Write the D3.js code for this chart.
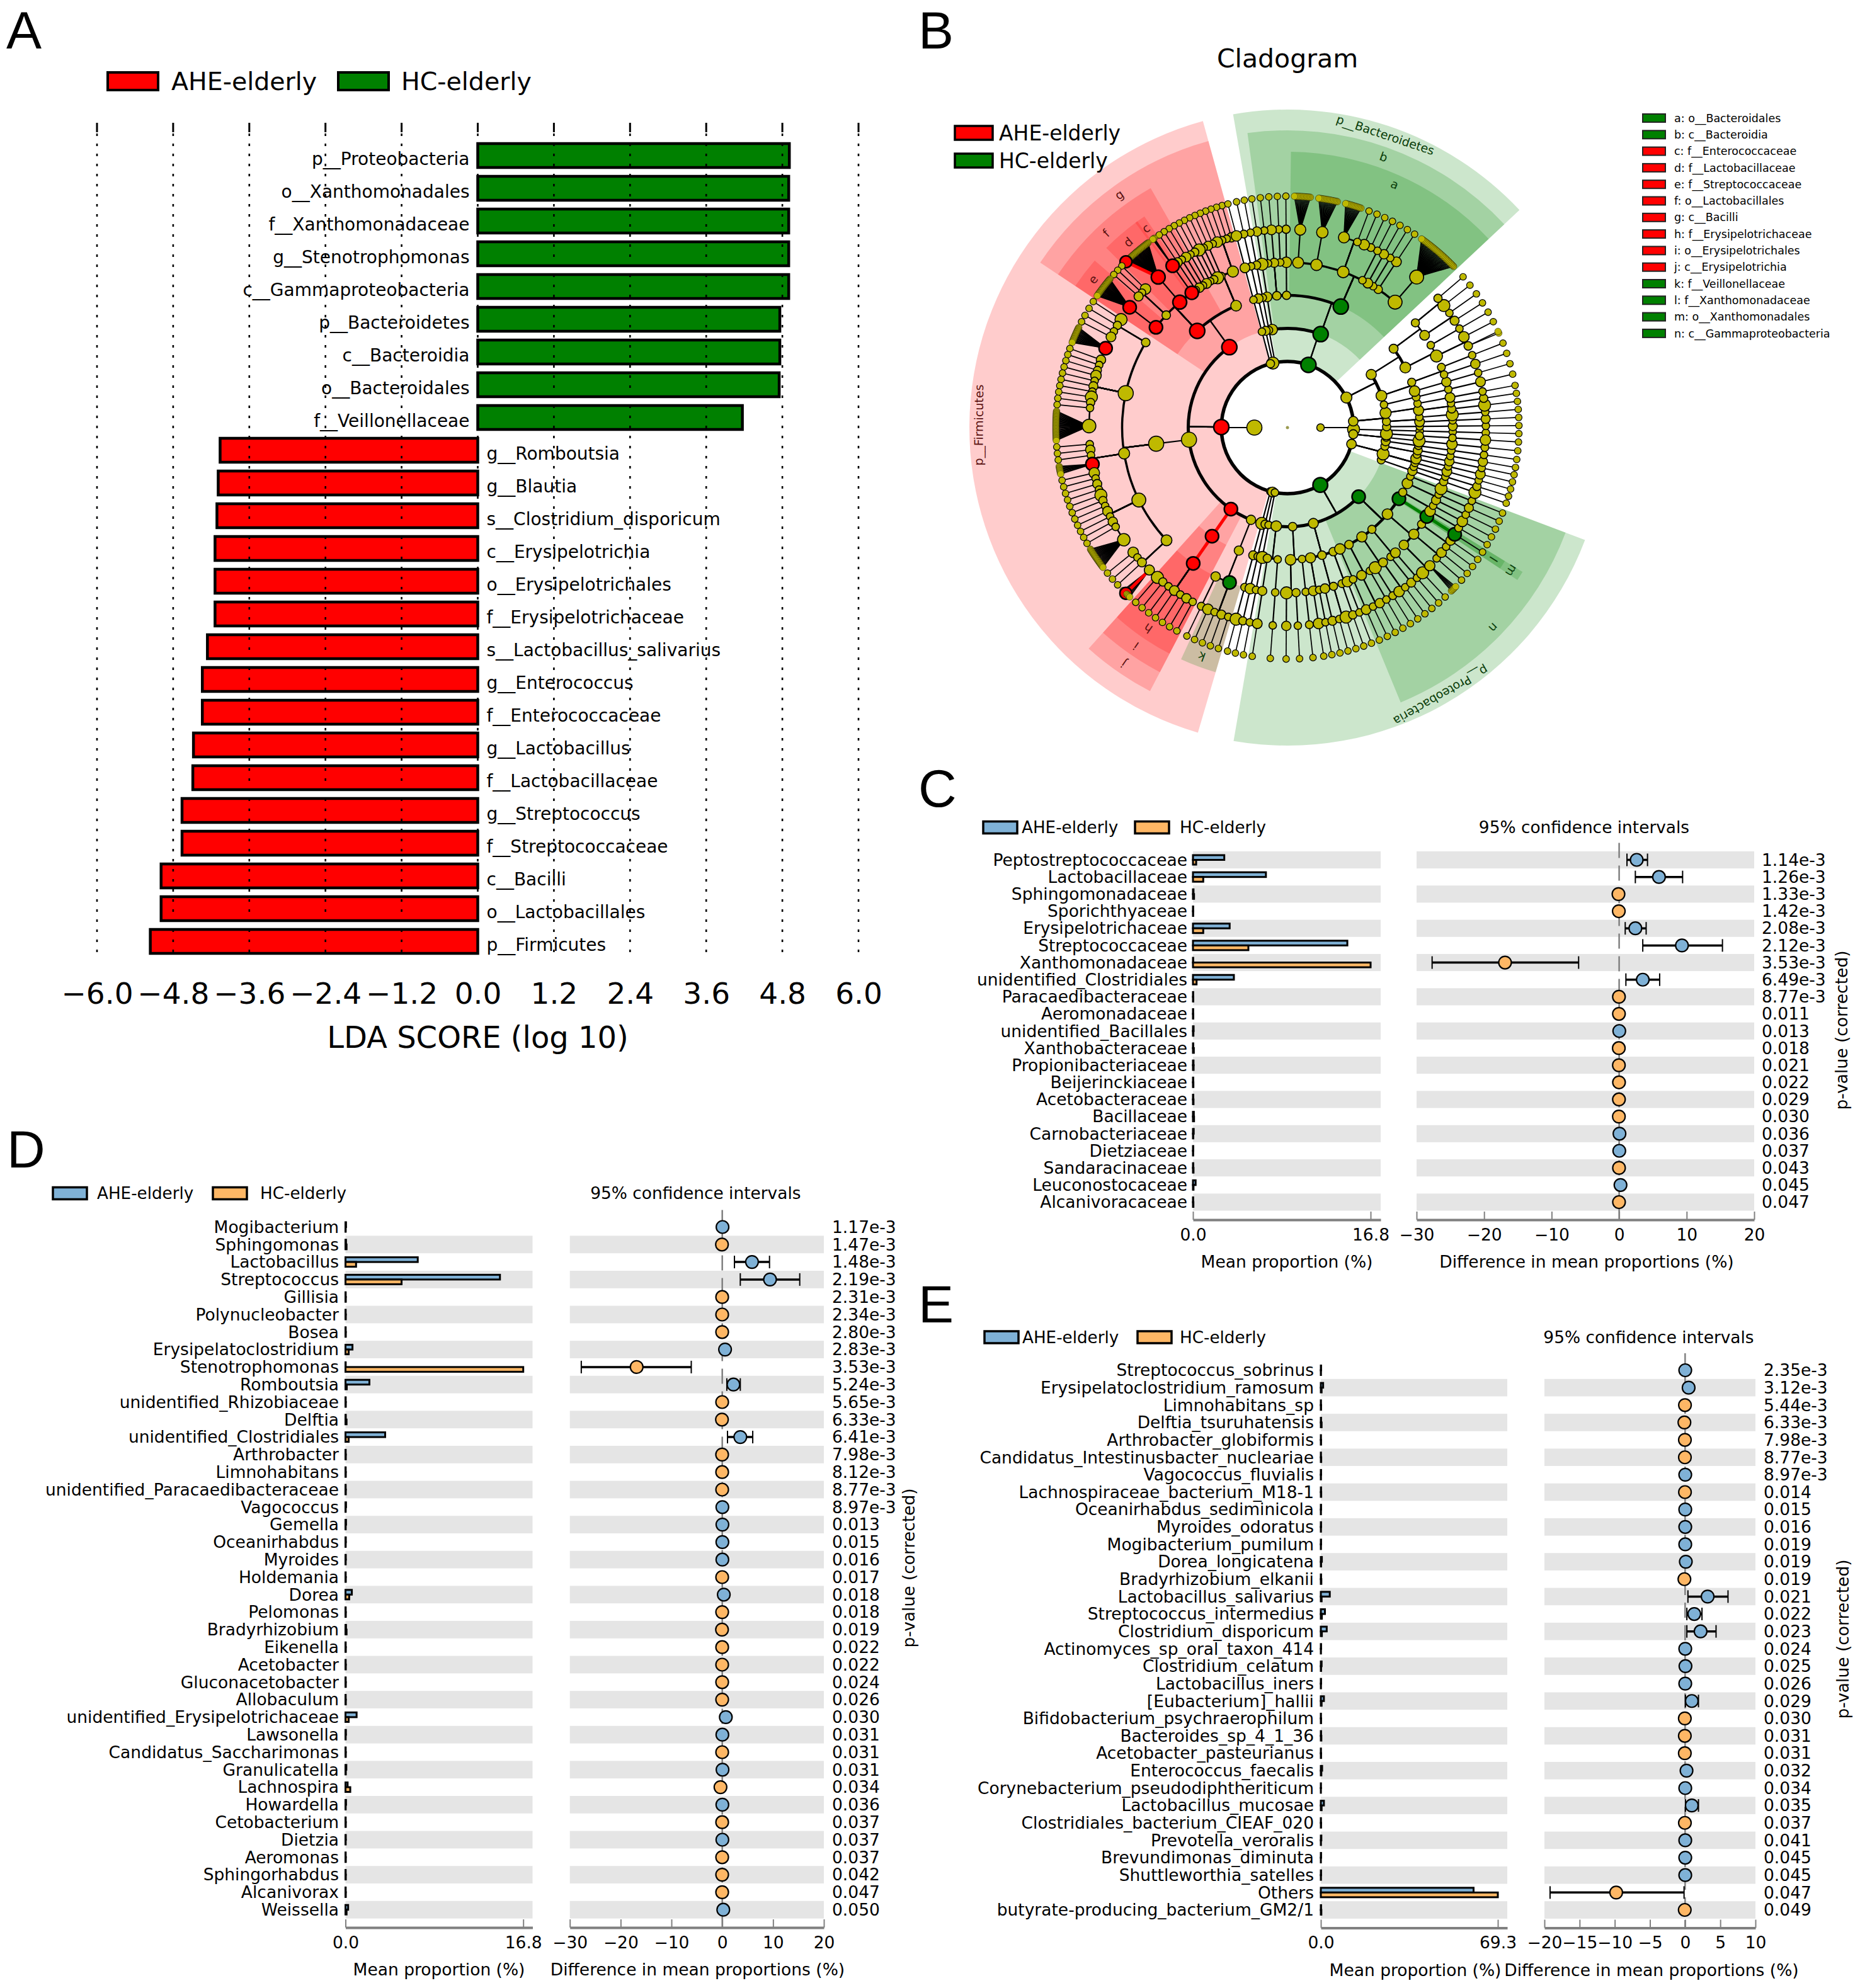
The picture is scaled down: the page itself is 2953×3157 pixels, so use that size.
<!DOCTYPE html>
<html>
<head>
<meta charset="utf-8">
<script src="https://cdn.jsdelivr.net/npm/d3@7"></script>
<style>
  html, body { margin: 0; background: #fff; }
  text { font-family: "DejaVu Sans", sans-serif; fill: #000; }
  .panel-letter { font-family: "Liberation Sans", sans-serif; font-size: 84px; }
</style>
</head>
<body>
<div id="svg"></div>
<script>
// ---- panel A: LDA scores
const ldaTaxa = ["p__Proteobacteria", "o__Xanthomonadales", "f__Xanthomonadaceae", "g__Stenotrophomonas",
  "c__Gammaproteobacteria", "p__Bacteroidetes", "c__Bacteroidia", "o__Bacteroidales", "f__Veillonellaceae",
  "g__Romboutsia", "g__Blautia", "s__Clostridium_disporicum", "c__Erysipelotrichia", "o__Erysipelotrichales",
  "f__Erysipelotrichaceae", "s__Lactobacillus_salivarius", "g__Enterococcus", "f__Enterococcaceae",
  "g__Lactobacillus", "f__Lactobacillaceae", "g__Streptococcus", "f__Streptococcaceae", "c__Bacilli",
  "o__Lactobacillales", "p__Firmicutes"];
const ldaScores = [4.91, 4.9, 4.9, 4.9, 4.9, 4.76, 4.76, 4.75, 4.17,
  -4.06, -4.09, -4.11, -4.14, -4.14, -4.14, -4.26, -4.34, -4.34, -4.48, -4.49, -4.66, -4.66, -4.99, -4.99, -5.16];
const ldaTicks = [-6, -4.8, -3.6, -2.4, -1.2, 0, 1.2, 2.4, 3.6, 4.8, 6];

// ---- panel B: cladogram, a number means a chain ending in that many species
const clade = (name, mark, kids, bold, hit) => ({ name, mark, kids, bold, hit });

const strayPhyla = [clade("stray1", null, 1), clade("stray2", null, 1), clade("stray3", null, 1)];
const bacteroidales = clade("o__Bacteroidales", "green", [12, 14, [12, 1, 1, 1], 1, 1, 1, 1, 30]);
const bacteroidia = clade("c__Bacteroidia", "green", [[1, 1, 1], 1, bacteroidales]);
const bacteroidetes = clade("p__Bacteroidetes", "green", [1, bacteroidia]);

const eastPhyla = [
  clade("east1", null, [[[[1, 1], [1, 1]], [1, [1, [14, 1]]]], [[1, 1], 1], 1]),
  clade("east2", null, [[1, [1, 1]], [1, 1], 1]),
  clade("east4", null, [1, 1, 1]),
  clade("east5", null, [[1, 1], [1, 1, 1], 1])
];
const eastKingdomPhylum = clade("east3", null, 1);

const xanthomonadales = clade("o__Xanthomonadales", "green", [
  clade("f__Xanthomonadaceae", "green", [clade("g__Stenotrophomonas", "green", 1, true)], true)]);
const gammaproteobacteria = clade("c__Gammaproteobacteria", "green",
  [1, [1, 1], [1, 1], xanthomonadales, [[1, 1], [1, 1], [5, 1]], [1, 1], [[1, 1], 1], [1, [1, 1]], 1]);
const proteobacteria = clade("p__Proteobacteria", "green", [
  gammaproteobacteria,
  clade("proteo2", null, [[1, 1], [[1, 1], 1], [1, 1]]),
  clade("proteo3", null, [1, [1, 1]]),
  clade("proteo4", null, [1, 1])
]);
const southPhyla = [clade("south1", null, 1), clade("south2", null, 1), clade("south3", null, 1)];

const negativicutes = clade("negativicutes", null, [[clade("f__Veillonellaceae", "green", [1, 1, 1, 1]), 1]]);
const erysipelotrichia = clade("c__Erysipelotrichia", "red", [
  clade("o__Erysipelotrichales", "red", [clade("f__Erysipelotrichaceae", "red", [1, 1, 1, 1, 1, 1, 1], true)], true)]);
const clostridia = clade("clostridia", null, [clade("clostridiales", null, [
  clade("clostFam1", null, [clade("g__Clostridium", null, 8, false, 4), 1, 1, 1]),
  clade("clostFam2", null, [20, 1, 1, 1, 1, 1, 1, 1, 1, 1, 1]),
  clade("clostFam3", null, [1, clade("g__Blautia", "red", 8), 1, 1, 1]),
  clade("clostFam4", null, [28, 1, 1, 1, 1, 1, 1, 1, 1, 1, 1, clade("g__Romboutsia", "red", 16), 1]),
  clade("clostFam5", null, [1, 1, 1])
])]);
const lactobacillales = clade("o__Lactobacillales", "red", [
  clade("f__Streptococcaceae", "red", [clade("g__Streptococcus", "red", 22)]),
  [1, 1, 1],
  clade("f__Lactobacillaceae", "red", [clade("g__Lactobacillus", "red", 30, false, 0)]),
  clade("f__Enterococcaceae", "red", [clade("g__Enterococcus", "red", 3)]),
  1, 1, 1
]);
const bacilli = clade("c__Bacilli", "red", [lactobacillales,
  clade("bacilliOrder2", null, [1, 1, 1, 1, 1, [1, 1, 1, 1, 1]])]);
const firmicutes = clade("p__Firmicutes", "red", [negativicutes, erysipelotrichia, clostridia, bacilli]);

const kingdomAngles = [270, 90];
// relative sizes seen on the small unmarked branches
const branchSizes = [1, 1.3, 1, 1.1, 1.6, 1, 1.2, 1, 1.4, 1.05, 1, 1.25];

// angular sectors, degrees clockwise from north
const sectorNames = ["stray1", "stray2", "stray3", "p__Bacteroidetes", "east1", "east2", "east3", "east4", "east5",
  "c__Gammaproteobacteria", "proteo2", "proteo3", "proteo4", "south1", "south2", "south3",
  "negativicutes", "c__Erysipelotrichia", "clostFam1", "clostFam2", "clostFam3", "clostFam4", "clostFam5",
  "o__Lactobacillales", "bacilliOrder2"];
const sectorStarts = [-16, -13.8, -11.6, -9.9, 48, 78.5, 90.5, 92.5, 99,
  110.6, 157.7, 172, 182, 189.9, 192, 194,
  196.3, 207.5, 222, 232, 256, 266, 298, 304, 330];
const sectorEnds = [-13.8, -11.6, -9.9, 46.9, 78, 90.5, 92.5, 99, 110,
  157.7, 172, 182, 191, 192, 194, 196,
  206.8, 222, 232, 256, 266, 298, 304, 330, 344.3];

const legendLetters = ["a", "b", "c", "d", "e", "f", "g", "h", "i", "j", "k", "l", "m", "n"];
const legendTaxa = ["o__Bacteroidales", "c__Bacteroidia", "f__Enterococcaceae", "f__Lactobacillaceae",
  "f__Streptococcaceae", "o__Lactobacillales", "c__Bacilli", "f__Erysipelotrichaceae", "o__Erysipelotrichales",
  "c__Erysipelotrichia", "f__Veillonellaceae", "f__Xanthomonadaceae", "o__Xanthomonadales", "c__Gammaproteobacteria"];
const phylumLabels = ["p__Bacteroidetes", "p__Proteobacteria", "p__Firmicutes"];

// ---- panel C: families
const cNames = ["Peptostreptococcaceae", "Lactobacillaceae", "Sphingomonadaceae", "Sporichthyaceae", "Erysipelotrichaceae",
  "Streptococcaceae", "Xanthomonadaceae", "unidentified_Clostridiales", "Paracaedibacteraceae", "Aeromonadaceae",
  "unidentified_Bacillales", "Xanthobacteraceae", "Propionibacteriaceae", "Beijerinckiaceae", "Acetobacteraceae",
  "Bacillaceae", "Carnobacteriaceae", "Dietziaceae", "Sandaracinaceae", "Leuconostocaceae", "Alcanivoracaceae"];
const cPValues = ["1.14e-3", "1.26e-3", "1.33e-3", "1.42e-3", "2.08e-3", "2.12e-3", "3.53e-3", "6.49e-3", "8.77e-3",
  "0.011", "0.013", "0.018", "0.021", "0.022", "0.029", "0.030", "0.036", "0.037", "0.043", "0.045", "0.047"];
const cAhe = [2.96, 6.9, 0.05, 0.02, 3.47, 14.6, 0.02, 3.87, 0.02, 0.02, 0.06, 0.03, 0.05, 0.03, 0.03, 0.08, 0.07, 0.03, 0.03, 0.25, 0.02];
const cHc = [0.3, 0.97, 0.1, 0.02, 0.97, 5.24, 16.8, 0.34, 0.03, 0.03, 0.04, 0.08, 0.06, 0.04, 0.05, 0.1, 0.03, 0.02, 0.05, 0.05, 0.04];
const cDiff = [2.6, 5.9, -0.1, -0.05, 2.4, 9.3, -16.9, 3.5, -0.03, -0.03, 0.02, -0.05, -0.04, -0.02, -0.03, -0.04, 0.05, 0.02, -0.02, 0.2, -0.02];
const cCiNames = ["Peptostreptococcaceae", "Lactobacillaceae", "Erysipelotrichaceae", "Streptococcaceae", "Xanthomonadaceae", "unidentified_Clostridiales"];
const cCiLow = [1.16, 2.4, 0.9, 3.5, -27.7, 1.0];
const cCiHigh = [4.2, 9.4, 4.0, 15.3, -6, 6];
const cDiffTicks = [-30, -20, -10, 0, 10, 20];

// ---- panel D: genera
const dNames = ["Mogibacterium", "Sphingomonas", "Lactobacillus", "Streptococcus", "Gillisia", "Polynucleobacter", "Bosea",
  "Erysipelatoclostridium", "Stenotrophomonas", "Romboutsia", "unidentified_Rhizobiaceae", "Delftia",
  "unidentified_Clostridiales", "Arthrobacter", "Limnohabitans", "unidentified_Paracaedibacteraceae", "Vagococcus",
  "Gemella", "Oceanirhabdus", "Myroides", "Holdemania", "Dorea", "Pelomonas", "Bradyrhizobium", "Eikenella",
  "Acetobacter", "Gluconacetobacter", "Allobaculum", "unidentified_Erysipelotrichaceae", "Lawsonella",
  "Candidatus_Saccharimonas", "Granulicatella", "Lachnospira", "Howardella", "Cetobacterium", "Dietzia", "Aeromonas",
  "Sphingorhabdus", "Alcanivorax", "Weissella"];
const dPValues = ["1.17e-3", "1.47e-3", "1.48e-3", "2.19e-3", "2.31e-3", "2.34e-3", "2.80e-3", "2.83e-3", "3.53e-3", "5.24e-3",
  "5.65e-3", "6.33e-3", "6.41e-3", "7.98e-3", "8.12e-3", "8.77e-3", "8.97e-3", "0.013", "0.015", "0.016", "0.017", "0.018",
  "0.018", "0.019", "0.022", "0.022", "0.024", "0.026", "0.030", "0.031", "0.031", "0.031", "0.034", "0.036", "0.037",
  "0.037", "0.037", "0.042", "0.047", "0.050"];
const dAhe = [0.05, 0.05, 6.83, 14.6, 0.02, 0.02, 0.02, 0.66, 0.02, 2.26, 0.02, 0.03, 3.75, 0.02, 0.02, 0.02, 0.05, 0.05, 0.03, 0.03,
  0.02, 0.6, 0.02, 0.05, 0.02, 0.02, 0.02, 0.02, 1.05, 0.04, 0.02, 0.08, 0.2, 0.05, 0.02, 0.03, 0.02, 0.02, 0.02, 0.25];
const dHc = [0.02, 0.1, 1.0, 5.3, 0.03, 0.03, 0.03, 0.3, 16.8, 0.12, 0.03, 0.1, 0.3, 0.03, 0.03, 0.03, 0.02, 0.02, 0.02, 0.02,
  0.03, 0.35, 0.03, 0.1, 0.03, 0.03, 0.03, 0.03, 0.3, 0.02, 0.03, 0.03, 0.45, 0.02, 0.03, 0.02, 0.03, 0.03, 0.03, 0.1];
const dDiff = [0.05, -0.06, 5.85, 9.4, -0.02, -0.02, -0.02, 0.55, -16.85, 2.2, -0.02, -0.06, 3.55, -0.03, -0.02, -0.02, 0.02, 0.03, 0.02, 0.02,
  -0.02, 0.3, -0.02, -0.05, -0.02, -0.02, -0.02, -0.02, 0.7, 0.02, -0.02, 0.05, -0.35, 0.02, -0.02, 0.02, -0.02, -0.02, -0.02, 0.2];
const dCiNames = ["Lactobacillus", "Streptococcus", "Stenotrophomonas", "Romboutsia", "unidentified_Clostridiales"];
const dCiLow = [2.4, 3.55, -27.75, 0.9, 1.03];
const dCiHigh = [9.3, 15.25, -6.1, 3.55, 6.0];
const dDiffTicks = [-30, -20, -10, 0, 10, 20];

// ---- panel E: species
const eNames = ["Streptococcus_sobrinus", "Erysipelatoclostridium_ramosum", "Limnohabitans_sp", "Delftia_tsuruhatensis",
  "Arthrobacter_globiformis", "Candidatus_Intestinusbacter_nucleariae", "Vagococcus_fluvialis", "Lachnospiraceae_bacterium_M18-1",
  "Oceanirhabdus_sediminicola", "Myroides_odoratus", "Mogibacterium_pumilum", "Dorea_longicatena", "Bradyrhizobium_elkanii",
  "Lactobacillus_salivarius", "Streptococcus_intermedius", "Clostridium_disporicum", "Actinomyces_sp_oral_taxon_414",
  "Clostridium_celatum", "Lactobacillus_iners", "[Eubacterium]_hallii", "Bifidobacterium_psychraerophilum", "Bacteroides_sp_4_1_36",
  "Acetobacter_pasteurianus", "Enterococcus_faecalis", "Corynebacterium_pseudodiphtheriticum", "Lactobacillus_mucosae",
  "Clostridiales_bacterium_CIEAF_020", "Prevotella_veroralis", "Brevundimonas_diminuta", "Shuttleworthia_satelles", "Others",
  "butyrate-producing_bacterium_GM2/1"];
const ePValues = ["2.35e-3", "3.12e-3", "5.44e-3", "6.33e-3", "7.98e-3", "8.77e-3", "8.97e-3", "0.014", "0.015", "0.016", "0.019",
  "0.019", "0.019", "0.021", "0.022", "0.023", "0.024", "0.025", "0.026", "0.029", "0.030", "0.031", "0.031", "0.032", "0.034",
  "0.035", "0.037", "0.041", "0.045", "0.045", "0.047", "0.049"];
const eAhe = [0.1, 0.9, 0.05, 0.1, 0.05, 0.05, 0.1, 0.1, 0.1, 0.1, 0.1, 0.4, 0.1, 3.5, 1.6, 2.3, 0.1, 0.3, 0.1, 1.2, 0.05, 0.1, 0.05,
  0.5, 0.05, 1.2, 0.05, 0.2, 0.1, 0.1, 59.8, 0.1];
const eHc = [0.05, 0.3, 0.1, 0.3, 0.1, 0.15, 0.05, 0.15, 0.05, 0.05, 0.05, 0.1, 0.2, 0.3, 0.4, 0.4, 0.05, 0.1, 0.05, 0.3, 0.1, 0.2, 0.1,
  0.2, 0.02, 0.3, 0.1, 0.05, 0.02, 0.05, 69.3, 0.2];
const eDiff = [0.02, 0.5, -0.02, -0.1, -0.03, -0.03, 0.02, -0.02, 0.02, 0.02, 0.02, 0.1, -0.1, 3.2, 1.3, 2.2, 0.02, 0.05, 0.02, 0.95,
  -0.04, -0.04, -0.04, 0.2, 0.02, 0.95, -0.03, 0.02, 0.02, 0.02, -9.8, -0.05];
const eCiNames = ["Lactobacillus_salivarius", "Streptococcus_intermedius", "Clostridium_disporicum", "[Eubacterium]_hallii", "Lactobacillus_mucosae", "Others"];
const eCiLow = [0.4, 0.25, 0.25, 0.05, 0.05, -19.2];
const eCiHigh = [6.1, 2.4, 4.4, 1.9, 1.9, -0.15];
const eDiffTicks = [-20, -15, -10, -5, 0, 5, 10];

const groupNames = ["AHE-elderly", "HC-elderly"];
const RED = "#ff0000", GREEN = "#008000", BLUE = "#7fb1d6", ORANGE = "#feb765", YELLOW = "#bfb900";

const svg = d3.select("#svg").append("svg").attr("width", 2953).attr("height", 3157);

function letter(txt, x, y) {
  svg.append("text").attr("class", "panel-letter").attr("x", x).attr("y", y).text(txt);
}
letter("A", 10, 77); letter("B", 1458, 77); letter("C", 1458, 1281); letter("D", 11, 1854); letter("E", 1458, 2100);

function legendEntry(x, y, w, h, fill, label, textX, size, sw) {
  svg.append("rect").attr("x", x).attr("y", y).attr("width", w).attr("height", h)
    .attr("fill", fill).attr("stroke", "#000").attr("stroke-width", sw);
  svg.append("text").attr("x", textX).attr("y", y + h / 2).attr("dy", ".35em").style("font-size", size + "px").text(label);
}

// ---------- panel A
function drawLda() {
  const x = d3.scaleLinear().domain([-6, 6]).range([154, 1363]);
  const y = d3.scalePoint().domain(ldaTaxa).range([247, 1495]);
  legendEntry(171, 115, 80, 28, RED, groupNames[0], 272, 39.5, 4);
  legendEntry(537, 115, 80, 28, GREEN, groupNames[1], 637, 39.5, 4);

  svg.append("g").selectAll("rect").data(ldaTaxa).join("rect")
    .attr("x", (d, i) => Math.min(x(0), x(ldaScores[i])))
    .attr("y", d => y(d) - 19)
    .attr("width", (d, i) => Math.abs(x(ldaScores[i]) - x(0)))
    .attr("height", 38)
    .attr("fill", (d, i) => ldaScores[i] > 0 ? GREEN : RED)
    .attr("stroke", "#000").attr("stroke-width", 4.5);

  svg.append("g").selectAll("text").data(ldaTaxa).join("text")
    .attr("x", (d, i) => ldaScores[i] > 0 ? x(0) - 13 : x(0) + 14)
    .attr("y", d => y(d) + 5).attr("dy", ".35em")
    .attr("text-anchor", (d, i) => ldaScores[i] > 0 ? "end" : "start")
    .style("font-size", "28px").text(d => d);

  svg.append("g").selectAll("line").data(ldaTicks).join("line")
    .attr("x1", d => x(d)).attr("x2", d => x(d)).attr("y1", 212).attr("y2", 1520)
    .attr("stroke", "#000").attr("stroke-width", 2.6).attr("stroke-dasharray", "4 12");
  svg.append("g").selectAll("line").data(ldaTicks).join("line")
    .attr("x1", d => x(d)).attr("x2", d => x(d)).attr("y1", 195).attr("y2", 210)
    .attr("stroke", "#000").attr("stroke-width", 3);

  const axis = svg.append("g").attr("transform", "translate(0,1553)")
    .call(d3.axisBottom(x).tickValues(ldaTicks).tickFormat(d3.format(".1f")).tickSize(0).tickPadding(8));
  axis.select(".domain").remove();
  axis.selectAll("text").style("font-size", "47px").style("font-family", "DejaVu Sans");
  svg.append("text").attr("x", x(0)).attr("y", 1647).attr("dy", ".35em").attr("text-anchor", "middle")
    .style("font-size", "48px").text("LDA SCORE (log 10)");
}

// ---------- panel B
function expand(spec, depth) {
  const o = (typeof spec === "object" && !Array.isArray(spec)) ? spec : { kids: spec };
  const node = { name: o.name || null, mark: o.mark || null, bold: !!o.bold };
  if (depth >= 7) return node;
  if (Array.isArray(o.kids)) node.children = o.kids.map(k => expand(k, depth + 1));
  else if (depth === 6) node.children = d3.range(o.kids).map(i => ({ name: null, mark: i === o.hit ? "red" : null, bold: i === o.hit }));
  else node.children = [expand(o.kids, depth + 1)];
  return node;
}

function drawCladogram() {
  const cx = 2044, cy = 679, step = 52.5;
  const deg = Math.PI / 180;
  const pt = (a, r) => [cx + r * Math.sin(a * deg), cy - r * Math.cos(a * deg)];
  const markColor = { red: RED, green: GREEN };

  const root = d3.hierarchy({
    name: "root", children: [
      { name: "west", children: [...strayPhyla, bacteroidetes, ...eastPhyla, proteobacteria, ...southPhyla, firmicutes].map(p => expand(p, 2)) },
      { name: "east", children: [expand(eastKingdomPhylum, 2)] }
    ]
  });

  const cluster = d3.cluster().separation((a, b) => (a.parent === b.parent && a.depth === 7) ? 0.17 : 1);
  sectorNames.forEach((name, i) => {
    const sub = root.find(d => d.data.name === name);
    cluster.size([sectorEnds[i] - sectorStarts[i], 1])(sub);
    sub.leaves().forEach(l => { l.angle = sectorStarts[i] + l.x; });
  });
  root.eachAfter(n => {
    if (n.children) {
      const ang = n.leaves().map(l => l.angle);
      n.lo = d3.min(ang); n.hi = d3.max(ang);
      n.angle = (n.lo + n.hi) / 2;
    } else { n.lo = n.hi = n.angle; }
    n.leafCount = n.leaves().length;
  });
  root.children.forEach((k, i) => { k.angle = kingdomAngles[i]; });

  const nodes = root.descendants();
  nodes.forEach((n, i) => { n.order = i; });
  const radius = d3.scaleSqrt().domain([1, 40]).range([6, 12]).clamp(true);
  const nodeR = n => {
    if (n.depth === 0) return 2.5;
    if (n.depth === 7) return n.data.mark ? 9.5 : 5.3;
    const r = radius(n.leafCount);
    if (n.data.mark) return Math.max(r, 10.5);
    return n.leafCount <= 5 ? r * branchSizes[n.order % branchSizes.length] : r;
  };

  // shaded sectors
  const outerByDepth = { 2: 505, 3: 472, 4: 438, 5: 405 };
  const labelByDepth = { 2: 490, 3: 456, 4: 422, 5: 388 };
  const arc = d3.arc();
  const shaded = nodes.filter(n => legendTaxa.includes(n.data.name) || phylumLabels.includes(n.data.name))
    .sort((a, b) => a.depth - b.depth);
  const gSector = svg.append("g").attr("transform", `translate(${cx},${cy})`);
  gSector.selectAll("path").data(shaded).join("path")
    .attr("d", n => arc({ innerRadius: step * n.depth, outerRadius: outerByDepth[n.depth], startAngle: (n.lo - 1) * deg, endAngle: (n.hi + 1) * deg }))
    .attr("fill", n => markColor[n.data.mark]).attr("fill-opacity", 0.2);
  gSector.selectAll("text").data(shaded).join("text")
    .attr("transform", n => {
      const [x, y] = pt(n.angle, labelByDepth[n.depth]);
      return `translate(${x - cx},${y - cy}) rotate(${n.angle})`;
    })
    .attr("text-anchor", "middle").attr("dy", ".35em").style("font-size", "19px")
    .style("fill", n => n.data.mark === "red" ? "#5a1010" : "#0a3d0a")
    .text(n => {
      const i = legendTaxa.indexOf(n.data.name);
      return i >= 0 ? legendLetters[i] : n.data.name;
    });

  // arcs joining siblings, thinner on small clades
  const arcWidth = { 2: 5.5, 3: 5, 4: 4.5, 5: 3.5, 6: 2.5 };
  const widthOf = n => Math.max(1.5, arcWidth[n.depth + 1] * Math.min(1, Math.sqrt(n.leafCount / 8)));
  const parents = nodes.filter(n => n.children && n.depth >= 1 && n.depth < 6);
  const gArc = svg.append("g").attr("transform", `translate(${cx},${cy})`);
  gArc.selectAll("path").data(parents).join("path")
    .attr("d", n => {
      const r = step * (n.depth + 1), w = widthOf(n);
      const a = n.children.map(c => c.angle);
      const full = n.data.name === "west";
      return arc({
        innerRadius: r - w / 2, outerRadius: r + w / 2,
        startAngle: full ? 0 : d3.min(a) * deg, endAngle: full ? 2 * Math.PI : d3.max(a) * deg
      });
    })
    .attr("fill", "#000");

  // links: radial up to the genus, a straight fan from genus to species
  const links = root.links().filter(l => l.source.depth >= 1);
  const linkEnds = l => {
    const fan = l.source.depth === 6 || l.target.data.bold;
    return [pt(l.source.angle, step * l.source.depth),
      fan ? pt(l.target.angle, step * l.target.depth) : pt(l.source.angle, step * l.target.depth)];
  };
  svg.append("g").selectAll("line").data(links.sort((a, b) => a.target.data.bold - b.target.data.bold)).join("line")
    .attr("x1", l => linkEnds(l)[0][0]).attr("y1", l => linkEnds(l)[0][1])
    .attr("x2", l => linkEnds(l)[1][0]).attr("y2", l => linkEnds(l)[1][1])
    .attr("stroke", l => l.target.data.bold ? markColor[l.target.data.mark] : "#000")
    .attr("stroke-width", l => l.target.data.bold ? 5 : (l.source.depth === 6 ? 1.7 : 2.2));

  // nodes, fan leaves get a finer outline so they stay yellow where they overlap
  const isFanLeaf = n => n.depth === 7 && n.parent.children.length > 1;
  svg.append("g").selectAll("circle").data(nodes.slice().reverse()).join("circle")
    .attr("cx", n => n.depth === 0 ? cx : pt(n.angle, step * n.depth)[0])
    .attr("cy", n => n.depth === 0 ? cy : pt(n.angle, step * n.depth)[1])
    .attr("r", nodeR)
    .attr("fill", n => n.depth === 0 ? "#9a9a50" : (markColor[n.data.mark] || YELLOW))
    .attr("stroke", n => n.depth === 0 ? "none" : "#000")
    .attr("stroke-width", n => n.data.mark ? 2.5 : (isFanLeaf(n) ? 0.5 : (n.depth === 7 ? 1.2 : 1.6)));

  svg.append("text").attr("x", cx).attr("y", 107).attr("text-anchor", "middle").style("font-size", "41px").text("Cladogram");
  legendEntry(1516, 200, 60, 22, RED, groupNames[0], 1586, 33, 3.5);
  legendEntry(1516, 244, 60, 22, GREEN, groupNames[1], 1586, 33, 3.5);

  const leg = svg.append("g").selectAll("g").data(legendTaxa).join("g")
    .attr("transform", (d, i) => `translate(2608,${181 + i * 26.3})`);
  leg.append("rect").attr("width", 36).attr("height", 13)
    .attr("fill", (d, i) => markColor[root.find(n => n.data.name === d).data.mark])
    .attr("stroke", "#222").attr("stroke-width", 2);
  leg.append("text").attr("x", 50).attr("y", 6.5).attr("dy", ".35em").style("font-size", "17.5px")
    .text((d, i) => `${legendLetters[i]}: ${d}`);
}

// ---------- panels C, D, E share the same extended error bar layout
function drawStamp(p) {
  const n = p.names.length;
  const y = d3.scalePoint().domain(p.names).range([p.firstRow, p.lastRow]);
  const rowH = (p.lastRow - p.firstRow) / (n - 1);
  const barX = d3.scaleLinear().domain([0, p.barTick]).range([p.barLeft, p.barTickX]);
  const diffX = d3.scaleLinear().domain([p.diffTicks[0], p.diffTicks[p.diffTicks.length - 1]]).range([p.diffLeft, p.diffRight]);
  const g = svg.append("g");

  legendEntry(p.legend[0], p.legendY - 9.5, 54, 19, BLUE, groupNames[0], p.legend[1], 26.2, 3.5);
  legendEntry(p.legend[2], p.legendY - 9.5, 54, 19, ORANGE, groupNames[1], p.legend[3], 26.2, 3.5);
  g.append("text").attr("x", (p.diffLeft + p.diffRight) / 2 - 2).attr("y", p.legendY).attr("dy", ".35em")
    .attr("text-anchor", "middle").style("font-size", "26.4px").text("95% confidence intervals");

  const striped = p.names.filter((d, i) => (n - 1 - i) % 2 === 0);
  [[p.barLeft, p.barRight], [p.diffLeft, p.diffRight]].forEach(([a, b]) => {
    g.append("g").selectAll("rect").data(striped).join("rect")
      .attr("x", a).attr("width", b - a).attr("y", d => y(d) - rowH / 2).attr("height", rowH).attr("fill", "#e5e5e5");
  });

  g.append("line").attr("x1", diffX(0)).attr("x2", diffX(0)).attr("y1", p.firstRow - 27).attr("y2", p.axisY)
    .attr("stroke", "#808080").attr("stroke-width", 2.5).attr("stroke-dasharray", "24 12");

  g.append("g").selectAll("rect").data(p.names).join("rect")
    .attr("x", p.barLeft).attr("y", d => y(d) - 7.5).attr("height", 7.5)
    .attr("width", (d, i) => barX(p.ahe[i]) - p.barLeft)
    .attr("fill", BLUE).attr("stroke", "#000").attr("stroke-width", 3);
  g.append("g").selectAll("rect").data(p.names).join("rect")
    .attr("x", p.barLeft).attr("y", d => y(d)).attr("height", 7.5)
    .attr("width", (d, i) => barX(p.hc[i]) - p.barLeft)
    .attr("fill", ORANGE).attr("stroke", "#000").attr("stroke-width", 3);

  const ci = g.append("g").selectAll("g").data(p.ciNames).join("g");
  ci.append("line").attr("x1", (d, i) => diffX(p.ciLow[i])).attr("x2", (d, i) => diffX(p.ciHigh[i]))
    .attr("y1", d => y(d)).attr("y2", d => y(d)).attr("stroke", "#000").attr("stroke-width", 3.5);
  ci.append("line").attr("x1", (d, i) => diffX(p.ciLow[i])).attr("x2", (d, i) => diffX(p.ciLow[i]))
    .attr("y1", d => y(d) - 10).attr("y2", d => y(d) + 10).attr("stroke", "#000").attr("stroke-width", 2);
  ci.append("line").attr("x1", (d, i) => diffX(p.ciHigh[i])).attr("x2", (d, i) => diffX(p.ciHigh[i]))
    .attr("y1", d => y(d) - 10).attr("y2", d => y(d) + 10).attr("stroke", "#000").attr("stroke-width", 2);

  g.append("g").selectAll("circle").data(p.names).join("circle")
    .attr("cx", (d, i) => diffX(p.diff[i])).attr("cy", d => y(d)).attr("r", 10)
    .attr("fill", (d, i) => p.diff[i] > 0 ? BLUE : ORANGE).attr("stroke", "#000").attr("stroke-width", 2.2);

  g.append("g").selectAll("text").data(p.names).join("text")
    .attr("x", p.labelRight).attr("y", d => y(d)).attr("dy", ".35em").attr("text-anchor", "end")
    .style("font-size", "26.5px").text(d => d);
  g.append("g").selectAll("text").data(p.names).join("text")
    .attr("x", p.pX).attr("y", d => y(d)).attr("dy", ".35em").style("font-size", "26.5px").text((d, i) => p.pValues[i]);

  const barAxisScale = barX.copy().domain([0, barX.invert(p.barRight)]).range([p.barLeft, p.barRight]);
  const axes = [
    d3.axisBottom(barAxisScale).tickValues([0, p.barTick]).tickFormat(d3.format(".1f")),
    d3.axisBottom(diffX).tickValues(p.diffTicks)
  ];
  axes.forEach(a => {
    const ax = g.append("g").attr("transform", `translate(0,${p.axisY})`)
      .call(a.tickSizeInner(-13).tickSizeOuter(0).tickPadding(14));
    ax.select(".domain").attr("stroke", "#808080").attr("stroke-width", 4);
    ax.selectAll(".tick line").attr("stroke", "#808080").attr("stroke-width", 2);
    ax.selectAll("text").style("font-size", "26.5px").style("font-family", "DejaVu Sans");
  });

  g.append("text").attr("x", p.meanTitleX).attr("y", p.axisY + 67).attr("dy", ".35em").attr("text-anchor", "middle")
    .style("font-size", "26.5px").text("Mean proportion (%)");
  g.append("text").attr("x", p.diffTitleX).attr("y", p.axisY + 67).attr("dy", ".35em").attr("text-anchor", "middle")
    .style("font-size", "26.5px").text("Difference in mean proportions (%)");
  g.append("text").attr("transform", `translate(${p.ylabel[0]},${p.ylabel[1]}) rotate(-90)`)
    .attr("text-anchor", "middle").attr("dy", ".35em").style("font-size", "26.5px").text("p-value (corrected)");
}

drawLda();
drawCladogram();
drawStamp({
  names: cNames, pValues: cPValues, ahe: cAhe, hc: cHc, diff: cDiff, ciNames: cCiNames, ciLow: cCiLow, ciHigh: cCiHigh, diffTicks: cDiffTicks,
  firstRow: 1365.5, lastRow: 1909, barLeft: 1894, barRight: 2192, barTick: 16.8, barTickX: 2176,
  diffLeft: 2249, diffRight: 2785, labelRight: 1885, pX: 2797, axisY: 1937,
  legend: [1561, 1622, 1802, 1873], legendY: 1314, meanTitleX: 2043, diffTitleX: 2519, ylabel: [2924, 1636]
});
drawStamp({
  names: dNames, pValues: dPValues, ahe: dAhe, hc: dHc, diff: dDiff, ciNames: dCiNames, ciLow: dCiLow, ciHigh: dCiHigh, diffTicks: dDiffTicks,
  firstRow: 1948.5, lastRow: 3032.7, barLeft: 548.5, barRight: 845.5, barTick: 16.8, barTickX: 830.7,
  diffLeft: 904.7, diffRight: 1308, labelRight: 538, pX: 1321, axisY: 3061,
  legend: [84, 154, 338, 413], legendY: 1895, meanTitleX: 697, diffTitleX: 1107.5, ylabel: [1443, 2490]
});
drawStamp({
  names: eNames, pValues: ePValues, ahe: eAhe, hc: eHc, diff: eDiff, ciNames: eCiNames, ciLow: eCiLow, ciHigh: eCiHigh, diffTicks: eDiffTicks,
  firstRow: 2176, lastRow: 3033, barLeft: 2097, barRight: 2393, barTick: 69.3, barTickX: 2378,
  diffLeft: 2452, diffRight: 2787, labelRight: 2086, pX: 2800, axisY: 3061.5,
  legend: [1563, 1623, 1806, 1873], legendY: 2123.5, meanTitleX: 2247, diffTitleX: 2622, ylabel: [2926, 2603]
});
</script>
</body>
</html>
